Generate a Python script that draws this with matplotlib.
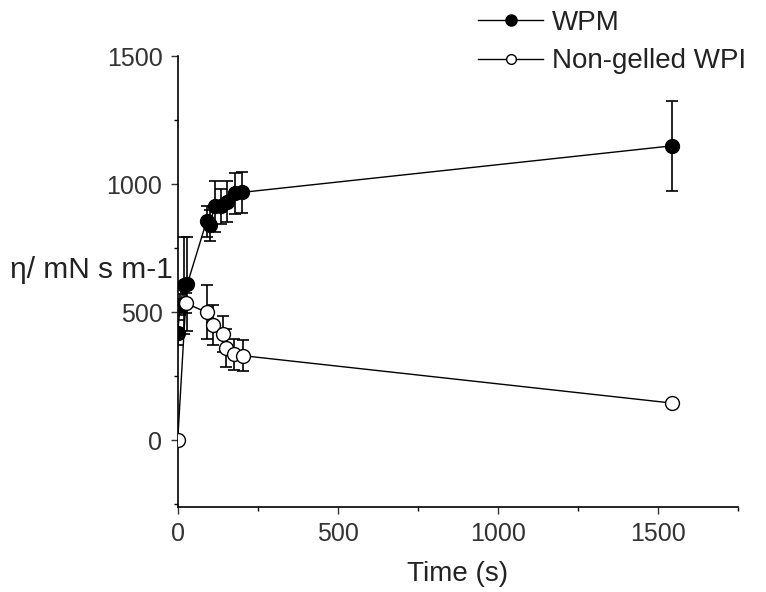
import matplotlib
matplotlib.use("Agg")
import matplotlib.pyplot as plt
from matplotlib.lines import Line2D
from matplotlib.ticker import MultipleLocator

plt.rcParams['font.family'] = ['Liberation Sans', 'DejaVu Sans']

# WPM (filled)
wpm_t = [0, 8, 20, 30, 90, 100, 115, 135, 155, 180, 200, 1545]
wpm_y = [420, 530, 605, 610, 855, 840, 913, 913, 932, 965, 968, 1150]
wpm_err = [50, 40, 190, 185, 60, 60, 100, 70, 80, 80, 80, 175]

# Non-gelled WPI (open)
wpi_t = [0, 25, 90, 110, 140, 150, 175, 205, 1545]
wpi_y = [0, 535, 500, 450, 415, 360, 335, 330, 145]
wpi_err = [10, 40, 105, 80, 70, 75, 60, 60, 12]

fig = plt.figure(figsize=(7.66, 5.92), dpi=100)
ax = fig.add_axes([0.232, 0.144, 0.731, 0.761])

ax.errorbar(wpm_t, wpm_y, yerr=wpm_err, color='black', lw=1, marker='o',
            ms=10, mfc='black', mec='black', ecolor='black', elinewidth=1.2,
            capsize=4, capthick=1.2, zorder=3)
ax.errorbar(wpi_t, wpi_y, yerr=wpi_err, color='black', lw=1, marker='o',
            ms=10, mfc='white', mec='black', ecolor='black', elinewidth=1.2,
            capsize=4, capthick=1.2, zorder=3)

ax.set_xlim(0, 1750)
ax.set_ylim(-260, 1500)
ax.xaxis.set_major_locator(MultipleLocator(500))
ax.xaxis.set_minor_locator(MultipleLocator(250))
ax.yaxis.set_major_locator(MultipleLocator(500))
ax.yaxis.set_minor_locator(MultipleLocator(250))
ax.spines['top'].set_visible(False)
ax.spines['right'].set_visible(False)
ax.spines['left'].set_linewidth(1.2)
ax.spines['bottom'].set_linewidth(1.2)
ax.tick_params(which='major', direction='out', length=5, width=1, labelsize=18,
               colors='#333333', pad=6)
ax.tick_params(which='minor', direction='out', length=3, width=1)

ax.set_xlabel('Time (s)', fontsize=20, labelpad=11, color='#222222')
fig.text(0.013, 1 - 270 / 592, 'η/ mN s m-1', fontsize=21.5, va='center', ha='left', color='#222222')

handles = [
    Line2D([], [], color='black', lw=1, marker='o', ms=8, mfc='black', mec='black'),
    Line2D([], [], color='black', lw=1, marker='o', ms=7, mfc='white', mec='black'),
]
ax.legend(handles, ['WPM', 'Non-gelled WPI'], loc='upper left',
          bbox_to_anchor=(478 / 766, 1 - 10 / 592), bbox_transform=fig.transFigure,
          frameon=False, fontsize=20, handlelength=2.35, handletextpad=0.3,
          labelspacing=0.45, borderaxespad=0, borderpad=0, labelcolor='#222222')

fig.savefig('out.png', dpi=100)
